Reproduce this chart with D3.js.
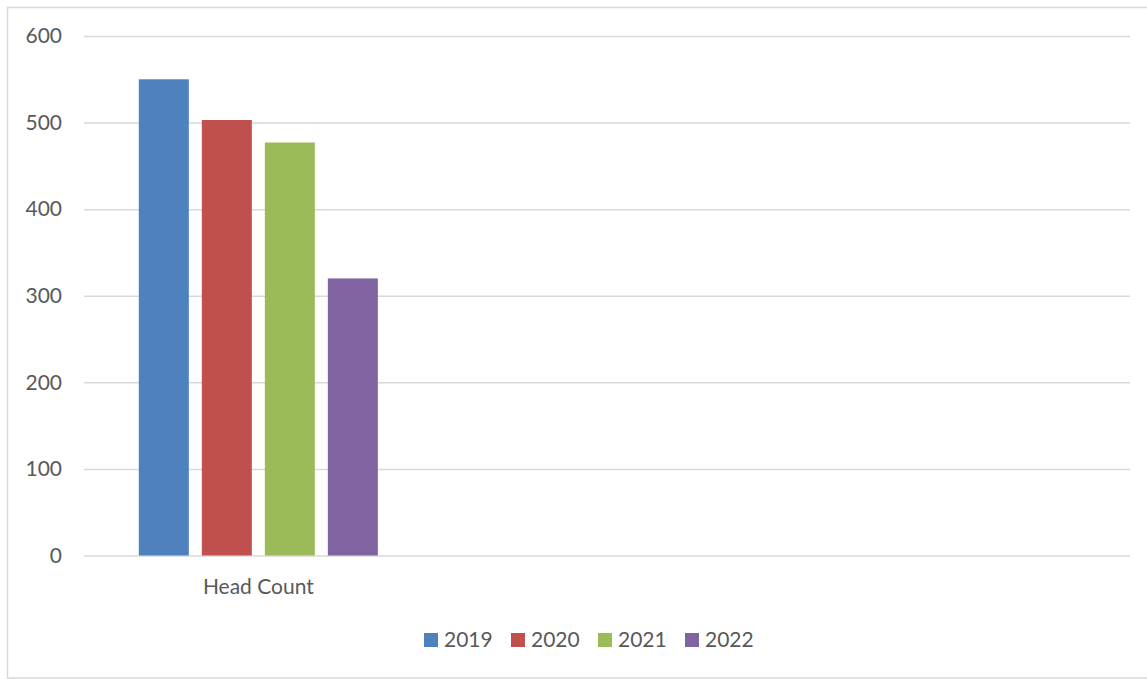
<!DOCTYPE html>
<html>
<head>
<meta charset="utf-8">
<script src="https://cdn.jsdelivr.net/npm/d3@7"></script>
<style>
  html, body { margin: 0; padding: 0; background: #fff; }
  svg { display: block; }
  text { font-family: Lato, "Open Sans", sans-serif; fill: #595959; }
</style>
</head>
<body>
<svg id="chart" width="1147" height="679"></svg>
<script>
// ---- data ----
const categories = ["Head Count", "", ""];
const seriesNames = ["2019", "2020", "2021", "2022"];
const values2019 = [550];
const values2020 = [503];
const values2021 = [477];
const values2022 = [320];
const seriesValues = [values2019, values2020, values2021, values2022];
const yTicks = [0, 100, 200, 300, 400, 500, 600];
const colors = ["#4F81BD", "#C0504D", "#9BBB59", "#8064A2"];

// ---- layout ----
const svg = d3.select("#chart");
const W = 1147, H = 679;
const plot = { left: 84, right: 1130, top: 36, bottom: 555.5 };

// outer border
svg.append("rect")
  .attr("x", 7.5).attr("y", 7.5)
  .attr("width", W + 20).attr("height", 670.5)
  .attr("fill", "#fff").attr("stroke", "#d9d9d9").attr("stroke-width", 1.5);

const y = d3.scaleLinear().domain([0, 600]).range([plot.bottom, plot.top]);
const x0 = d3.scaleBand().domain(d3.range(categories.length))
  .range([plot.left, plot.right]).paddingInner(0).paddingOuter(0);
const x1 = d3.scaleBand().domain(d3.range(seriesNames.length))
  .range([0, x0.bandwidth()]).paddingInner(13 / 63).paddingOuter(0.87);

// gridlines + y labels
const yAxis = svg.append("g")
  .attr("transform", `translate(${plot.left},0)`)
  .call(d3.axisLeft(y).tickValues(yTicks).tickSize(-(plot.right - plot.left)).tickPadding(22));
yAxis.select(".domain").remove();
yAxis.selectAll(".tick line").attr("stroke", "#d9d9d9").attr("stroke-width", 1.5);
yAxis.selectAll(".tick text").attr("font-size", 21).attr("fill", "#595959")
  .style("font-family", "Lato, 'Open Sans', sans-serif");

// bars
const groups = svg.append("g").selectAll("g")
  .data(categories.map((c, i) => i))
  .join("g")
  .attr("transform", i => `translate(${x0(i)},0)`);

groups.each(function(ci) {
  const g = d3.select(this);
  seriesValues.forEach((vals, si) => {
    if (vals[ci] === undefined) return;
    g.append("rect")
      .attr("x", x1(si))
      .attr("width", x1.bandwidth())
      .attr("y", y(vals[ci]))
      .attr("height", y(0) - y(vals[ci]))
      .attr("fill", colors[si]);
  });
});

// x axis labels
const xAxis = svg.append("g")
  .attr("transform", `translate(0,${plot.bottom})`)
  .call(d3.axisBottom(x0).tickFormat(i => categories[i]).tickSize(0).tickPadding(23.5));
xAxis.select(".domain").remove();
xAxis.selectAll(".tick text").attr("font-size", 21).attr("fill", "#595959")
  .style("font-family", "Lato, 'Open Sans', sans-serif");

// legend
const legendX = 424, legendStep = 87, legendBaseline = 647;
const legend = svg.append("g");
seriesNames.forEach((name, i) => {
  const gx = legendX + i * legendStep;
  legend.append("rect")
    .attr("x", gx).attr("y", 633).attr("width", 14).attr("height", 14)
    .attr("fill", colors[i]);
  legend.append("text")
    .attr("x", gx + 20).attr("y", legendBaseline)
    .attr("font-size", 21)
    .text(name);
});
</script>
</body>
</html>
